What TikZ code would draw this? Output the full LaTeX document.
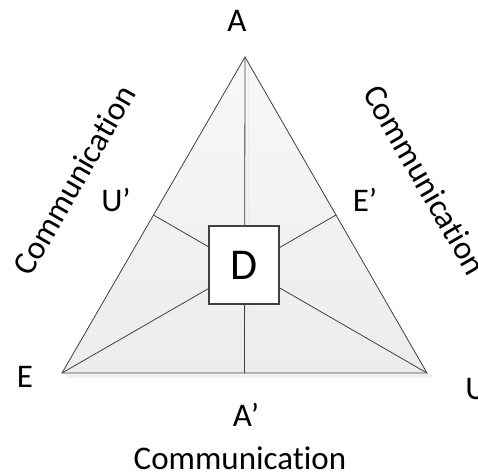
\documentclass[tikz,border=0pt]{standalone}
\usepackage{fontspec}
\setmainfont[Ligatures=NoCommon]{Carlito}
\usetikzlibrary{calc}
\definecolor{edgecol}{RGB}{64,64,64}
\definecolor{filltop}{RGB}{248,248,248}
\definecolor{fillbot}{RGB}{236,236,236}
\begin{document}
\begin{tikzpicture}[x=1pt,y=-1pt,
  lbl/.style={font=\fontsize{33}{40}\selectfont, inner sep=0pt, anchor=center},
  edge/.style={draw=edgecol, line width=0.8pt},
  dbox/.style={draw=edgecol, line width=1.3pt, fill=white, minimum width=70pt, minimum height=78pt, inner sep=0pt, font=\fontsize{44}{50}\selectfont}]
\useasboundingbox (0,0) rectangle (478,475);
\coordinate (A) at (245,57);
\coordinate (E) at (62,373);
\coordinate (U) at (427,373);
\coordinate (Ap) at ($(E)!0.5!(U)$);
\coordinate (Up) at ($(A)!0.5!(E)$);
\coordinate (Ep) at ($(A)!0.5!(U)$);
% shadow under base
\fill[gray!12] (66,374) -- (431,374) -- (433,378) -- (68,378) -- cycle;
% triangle
\shade[top color=filltop, bottom color=fillbot] (A) -- (E) -- (U) -- cycle;
% faint highlight lines
\draw[white!85!gray, line width=0.8pt] (248,60) -- (248,372);
\draw[white!85!gray, line width=0.8pt] (64,374) -- (246,270);
\draw[white!85!gray, line width=0.8pt] (247,270) -- (336,219);
% medians
\draw[edge] (A) -- (Ap);
\draw[edge] (E) -- (Ep);
\draw[edge] (U) -- (Up);
\draw[edge] (A) -- (E) -- (U) -- cycle;
\node[dbox] (D) at (244,265) {D};
% labels
\node[lbl] (lA) at (237,21) {A};
\node[lbl] (lE) at (25,377) {E};
\node[lbl] (lU) at (476,389) {U};
\node[lbl] (lAp) at (246,415) {A’};
\node[lbl] (lUp) at (116,200) {U’};
\node[lbl] (lEp) at (365,200) {E’};
\node[lbl, anchor=base] (cB) at (240,469) {Communication};
\node[lbl, rotate=60] (cL) at (74,180) {Communication};
\node[lbl, rotate=-60] (cR) at (425,180) {Communication};
\end{tikzpicture}
\end{document}
